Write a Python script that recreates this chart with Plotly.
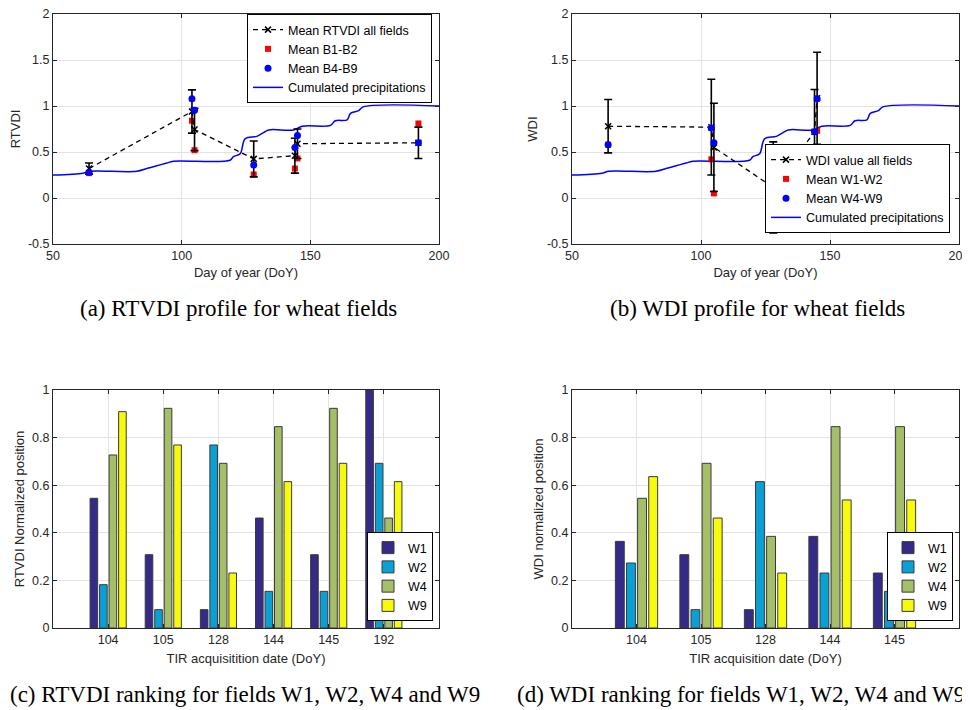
import plotly.graph_objects as go

# ---------------- data ----------------
# Cumulated precipitation (normalised), shared by (a) and (b)
precip_doy = [50, 61.7, 64.3, 82.5, 86.4, 90.3, 94.2, 96.8, 118.8, 120.1, 122.7, 124.7,
              129.2, 131.8, 133.8, 143.5, 146.8, 157.8, 159.7, 164.3, 165.6, 168.8, 170.5, 200]
precip_val = [0.25, 0.27, 0.29, 0.29, 0.32, 0.35, 0.38, 0.40, 0.41, 0.45, 0.48, 0.645,
              0.67, 0.71, 0.74, 0.74, 0.78, 0.79, 0.84, 0.85, 0.92, 0.95, 0.99, 1.00]

# (a) RTVDI profile
rtvdi_doy = [64, 104, 105, 128, 144, 145, 192]
rtvdi_mean = [0.32, 0.94, 0.745, 0.425, 0.46, 0.59, 0.60]
rtvdi_err = [0.06, 0.235, 0.23, 0.195, 0.19, 0.16, 0.17]
rtvdi_b12 = [0.27, 0.84, 0.52, 0.255, 0.32, 0.43, 0.81]
rtvdi_b49 = [0.28, 1.08, 0.955, 0.36, 0.55, 0.68, 0.60]

# (b) WDI profile
wdi_doy = [64, 104, 105, 128, 144, 145]
wdi_mean = [0.78, 0.77, 0.55, 0.115, 0.72, 1.085]
wdi_err = [0.29, 0.52, 0.48, 0.495, 0.46, 0.50]
wdi_w12 = [0.58, 0.42, 0.05, -0.31, 0.43, 0.73]
wdi_w49 = [0.58, 0.76, 0.60, -0.14, 0.72, 1.08]

profile_yticks = [-0.5, 0, 0.5, 1, 1.5, 2]
profile_yticklabels = ["-0.5", "0", "0.5", "1", "1.5", "2"]
profile_xticks = [50, 100, 150, 200]

# (c) RTVDI ranking
rank_c_dates = ["104", "105", "128", "144", "145", "192"]
rank_c = {
    "W1": [0.545, 0.308, 0.077, 0.462, 0.308, 1.0],
    "W2": [0.182, 0.077, 0.769, 0.154, 0.154, 0.692],
    "W4": [0.727, 0.923, 0.692, 0.846, 0.923, 0.462],
    "W9": [0.909, 0.769, 0.231, 0.615, 0.692, 0.615],
}
# (d) WDI ranking
rank_d_dates = ["104", "105", "128", "144", "145"]
rank_d = {
    "W1": [0.364, 0.308, 0.077, 0.385, 0.231],
    "W2": [0.273, 0.077, 0.615, 0.231, 0.154],
    "W4": [0.545, 0.692, 0.385, 0.846, 0.846],
    "W9": [0.636, 0.462, 0.231, 0.538, 0.538],
}
field_colors = {"W1": "#352a87", "W2": "#0aa0d4", "W4": "#a5bf69", "W9": "#f8fa0e"}

# ---------------- figure ----------------
# the page body has an 8px margin, so the figure is drawn 8px smaller and
# positions given in screen pixels are converted with OFF
OFF = 8
W, H = 970 - OFF, 710 - OFF


def px(x):
    return (x - OFF) / W


def py(y):
    return min(1.0, max(0.0, 1 - (y - OFF) / H))


fig = go.Figure()

PREC_BLUE = "#0000ff"
TXT = "#262626"


def add_profile(xa, ya, leg, doy, mean, err, m12, m49, name_mean, name12, name49):
    fig.add_trace(go.Scatter(
        x=precip_doy, y=precip_val, mode="lines", line=dict(color=PREC_BLUE, width=1.5),
        line_shape="spline", name="Cumulated precipitations", xaxis=xa, yaxis=ya, legend=leg,
        legendrank=4))
    fig.add_trace(go.Scatter(
        x=doy, y=m12, mode="markers", marker=dict(symbol="square", size=6, color="#ff0000"),
        name=name12, xaxis=xa, yaxis=ya, legend=leg, legendrank=2))
    fig.add_trace(go.Scatter(
        x=doy, y=mean, mode="lines+markers",
        line=dict(color="black", width=1.3, dash="5px,4px"),
        marker=dict(symbol="x-thin", size=6, line=dict(color="black", width=1.5)),
        error_y=dict(type="data", array=err, color="black", thickness=1.6, width=4),
        name=name_mean, xaxis=xa, yaxis=ya, legend=leg, legendrank=1))
    fig.add_trace(go.Scatter(
        x=doy, y=m49, mode="markers", marker=dict(symbol="circle", size=7, color="#0000ff"),
        name=name49, xaxis=xa, yaxis=ya, legend=leg, legendrank=3))


add_profile("x", "y", "legend", rtvdi_doy, rtvdi_mean, rtvdi_err, rtvdi_b12, rtvdi_b49,
            "Mean RTVDI all fields", "Mean B1-B2", "Mean B4-B9")
add_profile("x2", "y2", "legend2", wdi_doy, wdi_mean, wdi_err, wdi_w12, wdi_w49,
            "WDI value all fields", "Mean W1-W2", "Mean W4-W9")

for f, vals in rank_c.items():
    fig.add_trace(go.Bar(x=rank_c_dates, y=vals, name=f, marker=dict(
        color=field_colors[f], line=dict(color="#3a3a3a", width=1)),
        xaxis="x3", yaxis="y3", legend="legend3"))
for f, vals in rank_d.items():
    fig.add_trace(go.Bar(x=rank_d_dates, y=vals, name=f, marker=dict(
        color=field_colors[f], line=dict(color="#3a3a3a", width=1)),
        xaxis="x4", yaxis="y4", legend="legend4"))

xl = [px(53), px(439)]
xr = [px(572), px(959)]
yt = [py(244), py(14)]
yb = [py(628), py(390)]

axis_common = dict(showline=True, linecolor=TXT, linewidth=1, mirror="ticks", ticks="inside",
                   ticklen=4, tickcolor=TXT, showgrid=True, gridcolor="#e3e3e3", gridwidth=1,
                   zeroline=False, automargin=False, ticklabeloverflow="allow",
                   tickfont=dict(family="Liberation Sans", size=12.5, color=TXT),
                   title_font=dict(family="Liberation Sans", size=13, color=TXT))

fig.update_layout(
    width=W, height=H, margin=dict(l=0, r=0, t=0, b=0, autoexpand=False),
    paper_bgcolor="white", plot_bgcolor="white", showlegend=True,
    barmode="group", bargap=0.31, bargroupgap=0.2,
    xaxis=dict(domain=xl, anchor="y", range=[50, 200], tickvals=profile_xticks,
               title=dict(text="Day of year (DoY)", standoff=5), **axis_common),
    yaxis=dict(domain=yt, anchor="x", range=[-0.5, 2], tickvals=profile_yticks,
               ticktext=profile_yticklabels, title=dict(text="RTVDI", standoff=6), **axis_common),
    xaxis2=dict(domain=xr, anchor="y2", range=[50, 200], tickvals=profile_xticks,
                title=dict(text="Day of year (DoY)", standoff=5), **axis_common),
    yaxis2=dict(domain=yt, anchor="x2", range=[-0.5, 2], tickvals=profile_yticks,
                ticktext=profile_yticklabels, title=dict(text="WDI", standoff=6), **axis_common),
    xaxis3=dict(domain=xl, anchor="y3", type="category", range=[-1, 6],
                title=dict(text="TIR acquisitition date (DoY)", standoff=7), **axis_common),
    yaxis3=dict(domain=yb, anchor="x3", range=[0, 1], dtick=0.2,
                title=dict(text="RTVDI Normalized position", standoff=4), **axis_common),
    xaxis4=dict(domain=xr, anchor="y4", type="category", range=[-1, 5],
                title=dict(text="TIR acquisition date (DoY)", standoff=7), **axis_common),
    yaxis4=dict(domain=yb, anchor="x4", range=[0, 1], dtick=0.2,
                title=dict(text="WDI normalized position", standoff=4), **axis_common),
)

leg_common = dict(bgcolor="white", bordercolor="black", borderwidth=1,
                  font=dict(family="Liberation Sans", size=12.5, color="black"),
                  itemsizing="trace", itemwidth=30, tracegroupgap=0)
fig.update_layout(
    legend=dict(x=px(432), y=py(14), xanchor="right", yanchor="top", **leg_common),
    legend2=dict(x=px(950), y=py(233), xanchor="right", yanchor="bottom", **leg_common),
    legend3=dict(x=px(433), y=py(621), xanchor="right", yanchor="bottom", **leg_common),
    legend4=dict(x=px(953), y=py(621), xanchor="right", yanchor="bottom", **leg_common),
)

cap_font = dict(family="Liberation Serif", size=23, color="black")
captions = [
    ("(a) RTVDI profile for wheat fields", 238, 309, "center"),
    ("(b) WDI profile for wheat fields", 757, 309, "center"),
    ("(c) RTVDI ranking for fields W1, W2, W4 and W9", 8, 694, "left"),
    ("(d) WDI ranking for fields W1, W2, W4 and W9", 967, 694, "right"),
]
for txt, cx, cy, anc in captions:
    fig.add_annotation(text=txt, x=px(cx), y=py(cy), xref="paper", yref="paper",
                       showarrow=False, font=cap_font, xanchor=anc, yanchor="middle")

fig.write_html("out.html")
